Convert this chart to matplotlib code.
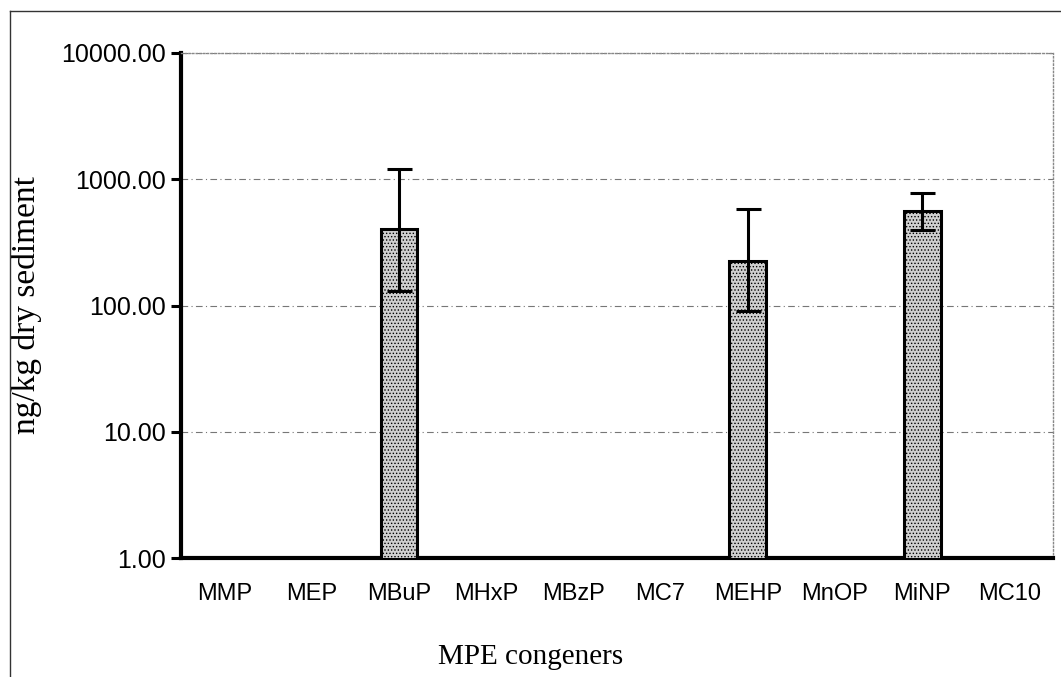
import numpy as np
import matplotlib
matplotlib.use('Agg')
import matplotlib.pyplot as plt
from matplotlib.lines import Line2D

# categorias y valores medios (ng/kg peso seco)
congeners = ['MMP', 'MEP', 'MBuP', 'MHxP', 'MBzP', 'MC7', 'MEHP', 'MnOP', 'MiNP', 'MC10']
means = [np.nan, np.nan, 400, np.nan, np.nan, np.nan, 224, np.nan, 557, np.nan]
err_high = [np.nan, np.nan, 1200, np.nan, np.nan, np.nan, 578, np.nan, 774, np.nan]
err_low = [np.nan, np.nan, 131, np.nan, np.nan, np.nan, 90, np.nan, 394, np.nan]
y_ticks = [1, 10, 100, 1000, 10000]

fig = plt.figure(figsize=(10.61, 6.77), dpi=100)
ax = fig.add_axes([181/1061, 1-558/677, (1053-181)/1061, (558-53)/677])

x = np.arange(len(congeners))
m = np.array(means, dtype=float)
hi = np.array(err_high, dtype=float)
lo = np.array(err_low, dtype=float)
ok = ~np.isnan(m)

plt.rcParams['hatch.color'] = '#7a7a7a'
plt.rcParams['hatch.linewidth'] = 0.6
ax.bar(x[ok], m[ok], width=0.42, bottom=0, color='#cfcfcf', edgecolor='black',
       linewidth=2.2, hatch='.....', zorder=3)
ax.errorbar(x[ok], m[ok], yerr=[m[ok] - lo[ok], hi[ok] - m[ok]], fmt='none',
            ecolor='black', elinewidth=2.2, capsize=9, capthick=2.2, zorder=4)

ax.set_yscale('log')
ax.set_ylim(1, 10000)
ax.set_xlim(-0.5, len(congeners) - 0.5)
ax.set_yticks(y_ticks)
ax.set_yticklabels([f'{v:.2f}' for v in y_ticks])
ax.minorticks_off()
ax.set_xticks(x)
ax.set_xticklabels(congeners)

# fuentes
for lab in ax.get_yticklabels():
    lab.set_family(['Liberation Sans', 'DejaVu Sans'])
    lab.set_fontsize(18)
for lab in ax.get_xticklabels():
    lab.set_family(['Liberation Sans', 'DejaVu Sans'])
    lab.set_fontsize(17)

ax.tick_params(axis='y', direction='out', length=7, width=2.2, pad=4)
ax.tick_params(axis='x', length=0, pad=18)

ax.grid(True, axis='y', color='#777777', linestyle=(0, (6, 3, 1, 3)), linewidth=0.8, zorder=0)

ax.spines['left'].set_linewidth(3)
ax.spines['bottom'].set_linewidth(3)
for s in ['top', 'right']:
    ax.spines[s].set_linewidth(1)
    ax.spines[s].set_color('#888888')
    ax.spines[s].set_linestyle(':')

ax.set_ylabel('ng/kg dry sediment', family=['Liberation Serif', 'DejaVu Serif'], fontsize=24)
ax.yaxis.set_label_coords((42 - 181) / 872, 0.5)
fig.text(438/1061, 1-657/677, 'MPE congeners', family=['Liberation Serif', 'DejaVu Serif'],
         fontsize=21, ha='left', va='center')

# marco exterior
fig.add_artist(Line2D([10/1061, 10/1061], [0, 1-11/677], transform=fig.transFigure,
                      color='#333333', linewidth=1))
fig.add_artist(Line2D([10/1061, 1], [1-11/677, 1-11/677], transform=fig.transFigure,
                      color='#333333', linewidth=1))

fig.savefig('out.png', dpi=100)
